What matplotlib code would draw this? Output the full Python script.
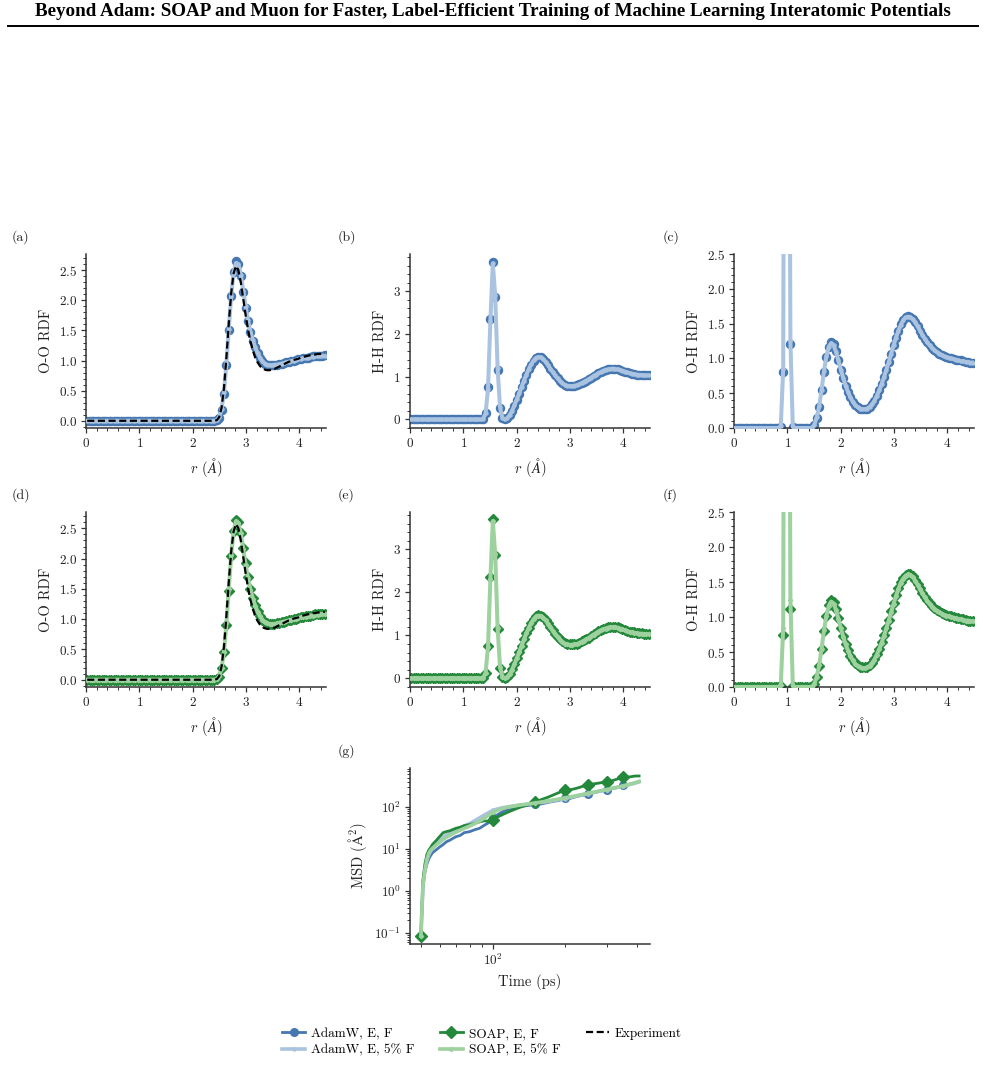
import numpy as np
import matplotlib.pyplot as plt
from matplotlib.lines import Line2D
from matplotlib.ticker import AutoMinorLocator, NullFormatter

plt.rcParams['font.family'] = ['cmr10', 'DejaVu Serif']
plt.rcParams['mathtext.fontset'] = 'cm'
plt.rcParams['axes.formatter.use_mathtext'] = True
plt.rcParams['axes.unicode_minus'] = False
plt.rcParams['axes.spines.top'] = False
plt.rcParams['axes.spines.right'] = False

# radial grid: bin centres, 100 bins over 0-4.5 A
r = 0.0225 + 0.045 * np.arange(100)

# ---------------- O-O RDF ----------------
oo_adamw_ef = [
    0, 0, 0, 0, 0, 0, 0, 0, 0, 0, 0, 0, 0, 0, 0, 0, 0, 0, 0, 0, 0, 0, 0, 0, 0, 0, 0,
    0, 0, 0, 0, 0, 0, 0, 0, 0, 0, 0, 0, 0, 0, 0, 0, 0, 0, 0, 0, 0, 0, 0, 0, 0, 0, 0,
    0.01, 0.05, 0.18, 0.44, 0.92, 1.51, 2.07, 2.47, 2.65, 2.61, 2.41, 2.14, 1.88, 1.65,
    1.47, 1.33, 1.22, 1.12, 1.05, 0.99, 0.95, 0.93, 0.92, 0.92, 0.92, 0.93, 0.94, 0.95,
    0.96, 0.97, 0.98, 0.99, 1.00, 1.01, 1.02, 1.03, 1.04, 1.05, 1.05, 1.06, 1.07, 1.07,
    1.08, 1.08, 1.08, 1.09]
oo_adamw_5f = [
    0, 0, 0, 0, 0, 0, 0, 0, 0, 0, 0, 0, 0, 0, 0, 0, 0, 0, 0, 0, 0, 0, 0, 0, 0, 0, 0,
    0, 0, 0, 0, 0, 0, 0, 0, 0, 0, 0, 0, 0, 0, 0, 0, 0, 0, 0, 0, 0, 0, 0, 0, 0, 0, 0,
    0.01, 0.06, 0.20, 0.47, 0.95, 1.53, 2.08, 2.46, 2.62, 2.60, 2.42, 2.16, 1.90, 1.67,
    1.48, 1.34, 1.22, 1.12, 1.05, 0.99, 0.95, 0.93, 0.92, 0.92, 0.93, 0.93, 0.94, 0.95,
    0.96, 0.97, 0.98, 0.99, 1.00, 1.01, 1.02, 1.03, 1.04, 1.04, 1.05, 1.06, 1.06, 1.07,
    1.07, 1.08, 1.08, 1.08]
oo_soap_ef = [
    0, 0, 0, 0, 0, 0, 0, 0, 0, 0, 0, 0, 0, 0, 0, 0, 0, 0, 0, 0, 0, 0, 0, 0, 0, 0, 0,
    0, 0, 0, 0, 0, 0, 0, 0, 0, 0, 0, 0, 0, 0, 0, 0, 0, 0, 0, 0, 0, 0, 0, 0, 0, 0, 0,
    0.01, 0.05, 0.19, 0.45, 0.90, 1.47, 2.04, 2.45, 2.63, 2.60, 2.43, 2.17, 1.92, 1.70,
    1.50, 1.35, 1.23, 1.13, 1.05, 0.99, 0.95, 0.93, 0.92, 0.92, 0.92, 0.93, 0.94, 0.95,
    0.96, 0.97, 0.98, 0.99, 1.00, 1.01, 1.02, 1.03, 1.04, 1.05, 1.06, 1.06, 1.07, 1.08,
    1.08, 1.09, 1.09, 1.09]
oo_soap_5f = [
    0, 0, 0, 0, 0, 0, 0, 0, 0, 0, 0, 0, 0, 0, 0, 0, 0, 0, 0, 0, 0, 0, 0, 0, 0, 0, 0,
    0, 0, 0, 0, 0, 0, 0, 0, 0, 0, 0, 0, 0, 0, 0, 0, 0, 0, 0, 0, 0, 0, 0, 0, 0, 0, 0,
    0.01, 0.06, 0.20, 0.46, 0.93, 1.50, 2.06, 2.46, 2.62, 2.59, 2.42, 2.16, 1.90, 1.68,
    1.49, 1.34, 1.22, 1.12, 1.05, 0.99, 0.95, 0.93, 0.92, 0.92, 0.92, 0.93, 0.94, 0.95,
    0.96, 0.97, 0.98, 0.99, 1.00, 1.01, 1.02, 1.03, 1.04, 1.04, 1.05, 1.06, 1.06, 1.07,
    1.07, 1.08, 1.08, 1.08]
oo_exp = [
    0, 0, 0, 0, 0, 0, 0, 0, 0, 0, 0, 0, 0, 0, 0, 0, 0, 0, 0, 0, 0, 0, 0, 0, 0, 0, 0,
    0, 0, 0, 0, 0, 0, 0, 0, 0, 0, 0, 0, 0, 0, 0, 0, 0, 0, 0, 0, 0, 0, 0, 0, 0, 0, 0,
    0.01, 0.06, 0.22, 0.55, 1.05, 1.62, 2.12, 2.45, 2.57, 2.50, 2.30, 2.03, 1.76, 1.52,
    1.32, 1.17, 1.05, 0.97, 0.91, 0.87, 0.85, 0.84, 0.84, 0.85, 0.86, 0.88, 0.90, 0.92,
    0.94, 0.96, 0.98, 0.99, 1.01, 1.02, 1.03, 1.05, 1.06, 1.07, 1.08, 1.09, 1.10, 1.10,
    1.11, 1.11, 1.12, 1.12]

# ---------------- H-H RDF ----------------
hh_adamw_ef = [
    0, 0, 0, 0, 0, 0, 0, 0, 0, 0, 0, 0, 0, 0, 0, 0, 0, 0, 0, 0, 0, 0, 0, 0, 0, 0, 0, 0, 0, 0,
    0.02, 0.15, 0.76, 2.36, 3.68, 2.87, 1.16, 0.26, 0.03, 0.00, 0.03, 0.10, 0.20, 0.32,
    0.46, 0.60, 0.75, 0.90, 1.04, 1.17, 1.28, 1.37, 1.43, 1.46, 1.45, 1.41, 1.35, 1.27,
    1.19, 1.11, 1.03, 0.96, 0.90, 0.85, 0.81, 0.79, 0.78, 0.78, 0.79, 0.80, 0.82, 0.85,
    0.88, 0.91, 0.94, 0.98, 1.02, 1.05, 1.09, 1.12, 1.14, 1.16, 1.18, 1.19, 1.19, 1.19,
    1.18, 1.16, 1.14, 1.12, 1.10, 1.08, 1.07, 1.06, 1.05, 1.04, 1.04, 1.03, 1.03, 1.03]
hh_adamw_5f = [
    0, 0, 0, 0, 0, 0, 0, 0, 0, 0, 0, 0, 0, 0, 0, 0, 0, 0, 0, 0, 0, 0, 0, 0, 0, 0, 0, 0, 0, 0,
    0.02, 0.14, 0.72, 2.30, 3.65, 2.90, 1.20, 0.28, 0.04, 0.00, 0.03, 0.10, 0.20, 0.33,
    0.47, 0.61, 0.76, 0.91, 1.05, 1.18, 1.29, 1.38, 1.44, 1.46, 1.45, 1.41, 1.35, 1.27,
    1.19, 1.11, 1.03, 0.96, 0.90, 0.85, 0.81, 0.79, 0.78, 0.78, 0.79, 0.80, 0.82, 0.85,
    0.88, 0.91, 0.94, 0.98, 1.02, 1.05, 1.08, 1.11, 1.14, 1.16, 1.17, 1.18, 1.19, 1.18,
    1.17, 1.16, 1.14, 1.12, 1.10, 1.08, 1.07, 1.06, 1.05, 1.04, 1.04, 1.03, 1.03, 1.03]
hh_soap_ef = [
    0, 0, 0, 0, 0, 0, 0, 0, 0, 0, 0, 0, 0, 0, 0, 0, 0, 0, 0, 0, 0, 0, 0, 0, 0, 0, 0, 0, 0, 0,
    0.02, 0.12, 0.75, 2.35, 3.70, 2.88, 1.15, 0.25, 0.03, 0.00, 0.03, 0.10, 0.21, 0.33,
    0.47, 0.61, 0.76, 0.91, 1.05, 1.18, 1.29, 1.38, 1.44, 1.47, 1.46, 1.42, 1.36, 1.28,
    1.20, 1.12, 1.04, 0.97, 0.91, 0.86, 0.82, 0.80, 0.79, 0.79, 0.80, 0.81, 0.83, 0.86,
    0.89, 0.92, 0.95, 0.99, 1.03, 1.06, 1.10, 1.13, 1.15, 1.17, 1.19, 1.20, 1.20, 1.20,
    1.19, 1.17, 1.15, 1.13, 1.11, 1.09, 1.08, 1.07, 1.06, 1.05, 1.05, 1.04, 1.04, 1.04]
hh_soap_5f = [
    0, 0, 0, 0, 0, 0, 0, 0, 0, 0, 0, 0, 0, 0, 0, 0, 0, 0, 0, 0, 0, 0, 0, 0, 0, 0, 0, 0, 0, 0,
    0.02, 0.13, 0.73, 2.32, 3.66, 2.89, 1.18, 0.27, 0.04, 0.00, 0.03, 0.10, 0.20, 0.33,
    0.47, 0.61, 0.76, 0.91, 1.05, 1.18, 1.29, 1.38, 1.44, 1.46, 1.45, 1.41, 1.35, 1.27,
    1.19, 1.11, 1.03, 0.96, 0.90, 0.85, 0.81, 0.79, 0.78, 0.78, 0.79, 0.80, 0.82, 0.85,
    0.88, 0.91, 0.94, 0.98, 1.02, 1.05, 1.09, 1.12, 1.14, 1.16, 1.18, 1.19, 1.19, 1.19,
    1.18, 1.16, 1.14, 1.12, 1.10, 1.08, 1.07, 1.06, 1.05, 1.04, 1.04, 1.03, 1.03, 1.03]

# ---------------- O-H RDF ----------------
oh_adamw_ef = [
    0, 0, 0, 0, 0, 0, 0, 0, 0, 0, 0, 0, 0, 0, 0, 0, 0, 0, 0,
    0.02, 0.81, 14.5, 10.5, 1.20, 0.02, 0, 0, 0, 0, 0, 0, 0, 0,
    0.05, 0.15, 0.30, 0.54, 0.81, 1.02, 1.17, 1.23, 1.20, 1.10, 0.97, 0.84, 0.72, 0.61,
    0.52, 0.44, 0.38, 0.33, 0.30, 0.28, 0.27, 0.27, 0.28, 0.30, 0.34, 0.39, 0.46, 0.54,
    0.63, 0.73, 0.84, 0.95, 1.07, 1.19, 1.30, 1.40, 1.49, 1.55, 1.59, 1.61, 1.60, 1.57,
    1.52, 1.46, 1.40, 1.34, 1.28, 1.23, 1.19, 1.15, 1.12, 1.09, 1.07, 1.05, 1.03, 1.02,
    1.01, 1.00, 0.99, 0.98, 0.97, 0.97, 0.96, 0.95, 0.95, 0.94, 0.94]
oh_adamw_5f = [
    0, 0, 0, 0, 0, 0, 0, 0, 0, 0, 0, 0, 0, 0, 0, 0, 0, 0, 0,
    0.03, 0.85, 14.0, 11.0, 1.25, 0.02, 0, 0, 0, 0, 0, 0, 0, 0,
    0.05, 0.16, 0.31, 0.55, 0.82, 1.03, 1.17, 1.22, 1.19, 1.09, 0.97, 0.84, 0.72, 0.61,
    0.52, 0.44, 0.38, 0.33, 0.30, 0.28, 0.27, 0.27, 0.28, 0.30, 0.34, 0.39, 0.46, 0.54,
    0.63, 0.73, 0.84, 0.95, 1.07, 1.19, 1.30, 1.40, 1.48, 1.55, 1.59, 1.60, 1.59, 1.56,
    1.52, 1.46, 1.40, 1.34, 1.28, 1.23, 1.19, 1.15, 1.12, 1.09, 1.07, 1.05, 1.03, 1.02,
    1.01, 1.00, 0.99, 0.98, 0.97, 0.96, 0.96, 0.95, 0.95, 0.94, 0.94]
oh_soap_ef = [
    0, 0, 0, 0, 0, 0, 0, 0, 0, 0, 0, 0, 0, 0, 0, 0, 0, 0, 0,
    0.02, 0.75, 15.0, 10.0, 1.12, 0.02, 0, 0, 0, 0, 0, 0, 0, 0,
    0.05, 0.15, 0.30, 0.54, 0.80, 1.01, 1.17, 1.24, 1.21, 1.11, 0.98, 0.85, 0.73, 0.62,
    0.53, 0.45, 0.39, 0.34, 0.31, 0.29, 0.28, 0.28, 0.29, 0.31, 0.35, 0.40, 0.47, 0.55,
    0.64, 0.74, 0.85, 0.96, 1.08, 1.20, 1.31, 1.41, 1.50, 1.56, 1.60, 1.62, 1.61, 1.58,
    1.53, 1.47, 1.41, 1.35, 1.29, 1.24, 1.20, 1.16, 1.13, 1.10, 1.08, 1.06, 1.04, 1.03,
    1.02, 1.01, 1.00, 0.99, 0.98, 0.97, 0.97, 0.96, 0.95, 0.95, 0.94]
oh_soap_5f = [
    0, 0, 0, 0, 0, 0, 0, 0, 0, 0, 0, 0, 0, 0, 0, 0, 0, 0, 0,
    0.03, 0.85, 14.2, 10.8, 1.25, 0.02, 0, 0, 0, 0, 0, 0, 0, 0,
    0.05, 0.15, 0.31, 0.55, 0.81, 1.02, 1.16, 1.22, 1.19, 1.10, 0.97, 0.84, 0.72, 0.61,
    0.52, 0.44, 0.38, 0.33, 0.30, 0.28, 0.27, 0.27, 0.28, 0.30, 0.34, 0.39, 0.46, 0.54,
    0.63, 0.73, 0.84, 0.95, 1.07, 1.19, 1.30, 1.40, 1.49, 1.55, 1.59, 1.61, 1.60, 1.57,
    1.52, 1.46, 1.40, 1.34, 1.28, 1.23, 1.19, 1.15, 1.12, 1.09, 1.07, 1.05, 1.03, 1.02,
    1.01, 1.00, 0.99, 0.98, 0.97, 0.97, 0.96, 0.95, 0.95, 0.94, 0.94]

# ---------------- MSD ----------------
t_msd = [50, 51, 52, 53, 54, 55, 56, 58, 60, 62, 64, 66, 68, 70, 73, 76, 80, 84, 88, 92,
         96, 100, 105, 110, 115, 120, 125, 130, 140, 150, 160, 170, 180, 190, 200, 210,
         220, 230, 240, 250, 260, 270, 280, 290, 300, 310, 320, 330, 340, 350, 360, 370,
         380, 390, 400, 410]
msd_adamw_ef = [0.085, 1.2, 2.9, 4.4, 5.9, 7.1, 8.2, 9.6, 11.2, 12.8, 14.9, 16.1, 17.8,
                19.5, 21.0, 24.5, 25.8, 28.7, 31.0, 36.5, 42.0, 55.0, 66.0, 77.0, 86.0,
                92.0, 99.0, 103, 108, 115, 118, 128, 136, 143, 160, 158, 172, 183, 191,
                205, 213, 222, 236, 245, 258, 266, 279, 288, 300, 335, 332, 342, 352,
                368, 382, 398]
msd_adamw_5f = [0.085, 1.5, 3.5, 5.5, 7.5, 9.0, 10.5, 13.0, 16.5, 19.0, 21.5, 23.5, 26.0,
                28.5, 31.0, 35.5, 40.0, 47.0, 55.0, 64.0, 73.0, 83.0, 90.0, 96.0, 100,
                104, 107, 111, 116, 122, 127, 134, 141, 150, 158, 168, 178, 189, 198,
                208, 217, 227, 238, 247, 257, 268, 278, 290, 300, 311, 323, 336, 349,
                362, 378, 395]
msd_soap_ef = [0.085, 1.8, 4.5, 7.5, 9.5, 11.0, 13.0, 16.0, 20.0, 24.5, 26.0, 27.0, 29.0,
               31.0, 33.0, 36.0, 38.0, 41.0, 44.0, 47.0, 45.0, 50.0, 58.0, 66.0, 74.0,
               82.0, 90.0, 98.0, 112, 132, 150, 170, 195, 222, 250, 255, 270, 290, 315,
               340, 350, 360, 372, 385, 400, 410, 430, 455, 480, 520, 510, 515, 525,
               540, 545, 545]
msd_soap_5f = [0.085, 1.4, 3.2, 5.8, 8.0, 9.5, 10.5, 12.5, 14.5, 17.0, 19.0, 21.0, 23.0,
               25.0, 28.0, 31.0, 35.0, 40.0, 46.0, 54.0, 64.0, 74.0, 84.0, 92.0, 98.0,
               103, 107, 111, 117, 124, 131, 139, 147, 155, 164, 173, 182, 191, 200,
               210, 220, 230, 240, 250, 260, 270, 281, 292, 303, 315, 328, 341, 355,
               370, 388, 405]

labels = ["AdamW, E, F", "AdamW, E, 5% F", "SOAP, E, F", "SOAP, E, 5% F", "Experiment"]

C_BLUE = '#4677b1'
C_LBLUE = '#a9c3e1'
C_GREEN = '#23883a'
C_LGREEN = '#9dd19e'
TXT = '#222222'

W, H = 985, 1085
fig = plt.figure(figsize=(W / 100, H / 100), dpi=100)


def px_axes(l, t, rr, b):
    return fig.add_axes([l / W, 1 - b / H, (rr - l) / W, (b - t) / H])


def style(ax, minor=True):
    for s in ['left', 'bottom']:
        ax.spines[s].set_color('#333333')
        ax.spines[s].set_linewidth(1.1)
    ax.tick_params(which='major', length=3.5, width=0.9, color='#333333',
                   labelsize=9.5, labelcolor=TXT, pad=3)
    ax.tick_params(which='minor', length=2, width=0.7, color='#333333')
    if minor:
        ax.xaxis.set_minor_locator(AutoMinorLocator())
        ax.yaxis.set_minor_locator(AutoMinorLocator())


def rdf_panel(ax, ef, f5, dark, light, mk, ms, ylab, ylim, yticks, exp=None):
    ax.plot(r, ef, color=dark, lw=1.5, marker=mk, ms=ms, mec=dark, mfc=dark, zorder=2)
    ax.plot(r, f5, color=light, lw=2.9, marker=mk, ms=2.2, mec=light, mfc=light, zorder=3)
    if exp is not None:
        ax.plot(r, exp, color='black', lw=1.6, ls=(0, (3.2, 1.6)), zorder=4)
    ax.set_xlim(0, 4.5)
    ax.set_ylim(*ylim)
    ax.set_xticks([0, 1, 2, 3, 4])
    ax.set_yticks(yticks)
    ax.set_xlabel(r'$r$ $(\AA)$', fontsize=10.5, color=TXT)
    ax.set_ylabel(ylab, fontsize=10.5, color=TXT)
    style(ax)


cols = [(86, 326), (410, 650), (734, 974)]
rows = [(254, 428), (512, 687)]

ax_a = px_axes(cols[0][0], rows[0][0], cols[0][1], rows[0][1])
rdf_panel(ax_a, oo_adamw_ef, oo_adamw_5f, C_BLUE, C_LBLUE, 'o', 5.8, 'O-O RDF',
          (-0.12, 2.77), [0, 0.5, 1.0, 1.5, 2.0, 2.5], exp=oo_exp)
ax_b = px_axes(cols[1][0], rows[0][0], cols[1][1], rows[0][1])
rdf_panel(ax_b, hh_adamw_ef, hh_adamw_5f, C_BLUE, C_LBLUE, 'o', 5.8, 'H-H RDF',
          (-0.2, 3.87), [0, 1, 2, 3])
ax_c = px_axes(cols[2][0], rows[0][0], cols[2][1], rows[0][1])
rdf_panel(ax_c, oh_adamw_ef, oh_adamw_5f, C_BLUE, C_LBLUE, 'o', 5.8, 'O-H RDF',
          (0, 2.5), [0, 0.5, 1.0, 1.5, 2.0, 2.5])

ax_d = px_axes(cols[0][0], rows[1][0], cols[0][1], rows[1][1])
rdf_panel(ax_d, oo_soap_ef, oo_soap_5f, C_GREEN, C_LGREEN, 'D', 5.2, 'O-O RDF',
          (-0.12, 2.77), [0, 0.5, 1.0, 1.5, 2.0, 2.5], exp=oo_exp)
ax_e = px_axes(cols[1][0], rows[1][0], cols[1][1], rows[1][1])
rdf_panel(ax_e, hh_soap_ef, hh_soap_5f, C_GREEN, C_LGREEN, 'D', 5.2, 'H-H RDF',
          (-0.2, 3.87), [0, 1, 2, 3])
ax_f = px_axes(cols[2][0], rows[1][0], cols[2][1], rows[1][1])
rdf_panel(ax_f, oh_soap_ef, oh_soap_5f, C_GREEN, C_LGREEN, 'D', 5.2, 'O-H RDF',
          (0, 2.5), [0, 0.5, 1.0, 1.5, 2.0, 2.5])

# MSD panel
ax_g = px_axes(410, 768, 650, 944)
mev = [i for i, t in enumerate(t_msd) if t % 50 == 0 and t <= 350]
h1, = ax_g.plot(t_msd, msd_adamw_ef, color=C_BLUE, lw=2.0, marker='o', ms=5.5,
                markevery=mev)
h2, = ax_g.plot(t_msd, msd_adamw_5f, color=C_LBLUE, lw=2.6, marker='o', ms=2.2,
                markevery=mev)
h3, = ax_g.plot(t_msd, msd_soap_ef, color=C_GREEN, lw=2.0, marker='D', ms=6,
                markevery=mev)
h4, = ax_g.plot(t_msd, msd_soap_5f, color=C_LGREEN, lw=2.6, marker='D', ms=2.2,
                markevery=mev)
ax_g.set_xscale('log')
ax_g.set_yscale('log')
ax_g.xaxis.set_minor_formatter(NullFormatter())
ax_g.set_xlabel('Time (ps)', fontsize=10.5, color=TXT)
ax_g.set_ylabel(r'MSD ($\mathrm{\AA}^2$)', fontsize=10.5, color=TXT)
style(ax_g, minor=False)

h5 = Line2D([], [], color='black', lw=1.6, ls=(0, (3.2, 1.6)))

fig.legend([h1, h2, h3, h4, h5], labels, ncol=3, loc='center',
           bbox_to_anchor=(482 / W, 1 - 1042 / H), frameon=False, fontsize=9.5,
           handlelength=1.75, handletextpad=0.45, columnspacing=1.9,
           labelspacing=0.3)

# panel letters
for lab, x, y in [('(a)', 12, 237), ('(b)', 338, 237), ('(c)', 663, 237),
                  ('(d)', 12, 495), ('(e)', 338, 495), ('(f)', 663, 495),
                  ('(g)', 338, 751)]:
    fig.text(x / W, 1 - y / H, lab, ha='left', va='center', fontsize=10, color=TXT)

# page header
fig.text(0.5, 1 - 12 / H,
         'Beyond Adam: SOAP and Muon for Faster, Label-Efficient Training of '
         'Machine Learning Interatomic Potentials',
         ha='center', va='center', fontsize=13.7, fontweight='bold',
         family=['Liberation Serif', 'DejaVu Serif'])
fig.add_artist(Line2D([8 / W, 978 / W], [1 - 25.5 / H] * 2, color='black', lw=1.4))

fig.savefig('out.png', dpi=100)
